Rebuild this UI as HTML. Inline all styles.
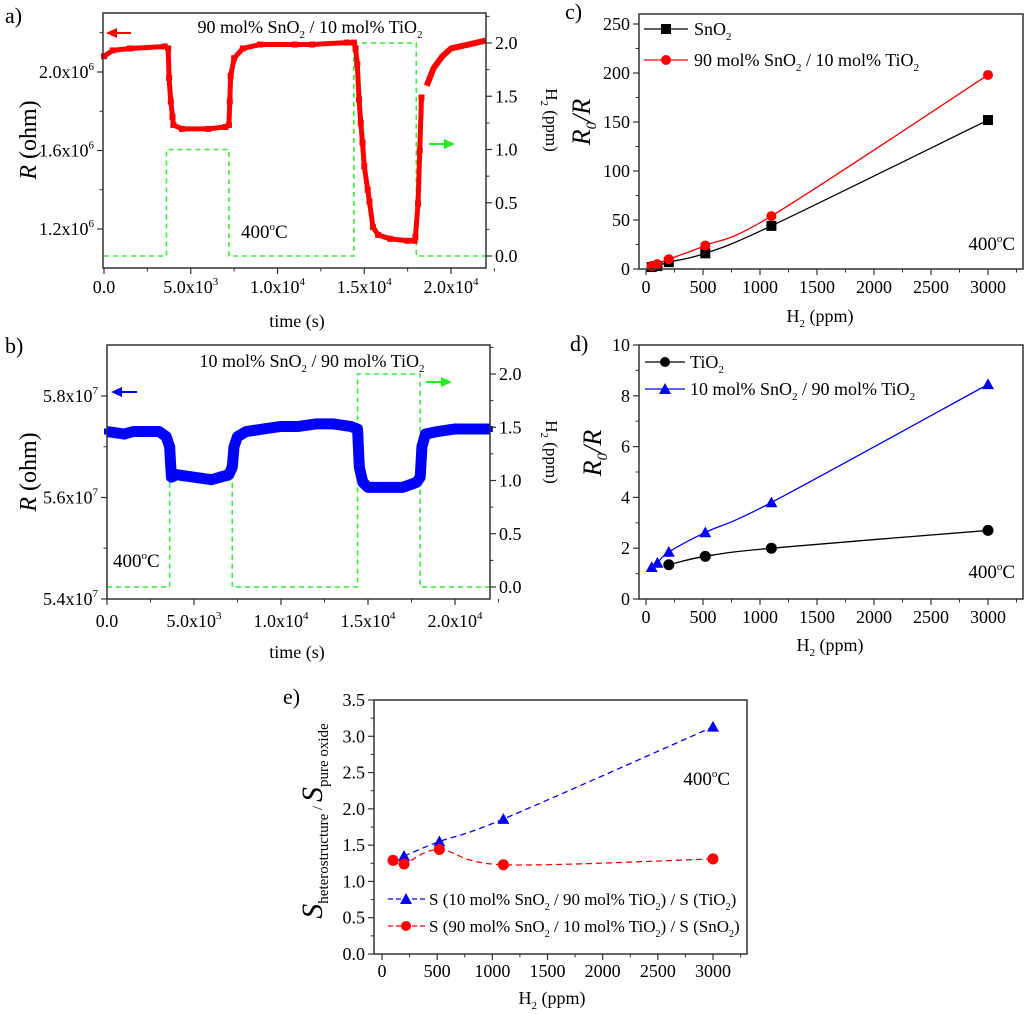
<!DOCTYPE html>
<html><head><meta charset="utf-8"><style>
html,body{margin:0;padding:0;background:#fff;}
svg{display:block;font-family:"Liberation Serif",serif;}
</style></head><body>
<svg id="chart" width="1024" height="1014" viewBox="0 0 1024 1014" xmlns="http://www.w3.org/2000/svg">
<rect width="1024" height="1014" fill="#fff"/>
<!-- panel letters -->
<text x="5" y="23" font-size="22">a)</text>
<text x="5" y="353" font-size="22">b)</text>
<text x="565" y="19" font-size="22">c)</text>
<text x="570" y="351" font-size="22">d)</text>
<text x="283" y="704" font-size="22">e)</text>
<!-- titles -->
<text x="310" y="33" font-size="18" text-anchor="middle">90 mol% SnO<tspan font-size="11" dy="5">2</tspan><tspan dy="-5"> / 10 mol% TiO</tspan><tspan font-size="11" dy="5">2</tspan></text>
<text x="312" y="367" font-size="18" text-anchor="middle">10 mol% SnO<tspan font-size="11" dy="5">2</tspan><tspan dy="-5"> / 90 mol% TiO</tspan><tspan font-size="11" dy="5">2</tspan></text>
<text x="241" y="238" font-size="19">400<tspan font-size="11" dy="-8">o</tspan><tspan dy="8">C</tspan></text>
<text x="113" y="567" font-size="19">400<tspan font-size="11" dy="-8">o</tspan><tspan dy="8">C</tspan></text>
<text x="1015" y="250" font-size="19" text-anchor="end">400<tspan font-size="11" dy="-8">o</tspan><tspan dy="8">C</tspan></text>
<text x="1015" y="578" font-size="19" text-anchor="end">400<tspan font-size="11" dy="-8">o</tspan><tspan dy="8">C</tspan></text>
<text x="730" y="785" font-size="19" text-anchor="end">400<tspan font-size="11" dy="-8">o</tspan><tspan dy="8">C</tspan></text>
<!-- axis titles -->
<text x="297" y="327" font-size="18" text-anchor="middle">time (s)</text>
<text x="297" y="658" font-size="18" text-anchor="middle">time (s)</text>
<text x="820" y="322" font-size="18" text-anchor="middle">H<tspan font-size="11" dy="5">2</tspan><tspan dy="-5"> (ppm)</tspan></text>
<text x="830" y="651" font-size="18" text-anchor="middle">H<tspan font-size="11" dy="5">2</tspan><tspan dy="-5"> (ppm)</tspan></text>
<text x="552" y="1004" font-size="18" text-anchor="middle">H<tspan font-size="11" dy="5">2</tspan><tspan dy="-5"> (ppm)</tspan></text>
<text transform="translate(36,140) rotate(-90)" font-size="24" text-anchor="middle"><tspan font-style="italic">R</tspan> (ohm)</text>
<text transform="translate(36,472) rotate(-90)" font-size="24" text-anchor="middle"><tspan font-style="italic">R</tspan> (ohm)</text>
<text transform="translate(546,120) rotate(90)" font-size="17" text-anchor="middle">H<tspan font-size="11" dy="5">2</tspan><tspan dy="-5"> (ppm)</tspan></text>
<text transform="translate(546,452) rotate(90)" font-size="17" text-anchor="middle">H<tspan font-size="11" dy="5">2</tspan><tspan dy="-5"> (ppm)</tspan></text>
<text transform="translate(590,122) rotate(-90)" font-size="26" text-anchor="middle" font-style="italic">R<tspan font-size="15" dy="6">0</tspan><tspan dy="-6">/R</tspan></text>
<text transform="translate(601,453) rotate(-90)" font-size="26" text-anchor="middle" font-style="italic">R<tspan font-size="15" dy="6">0</tspan><tspan dy="-6">/R</tspan></text>
<text transform="translate(322,821) rotate(-90)" font-size="30" text-anchor="middle" font-style="italic">S<tspan font-size="15" font-style="normal" dy="6">heterostructure</tspan><tspan font-size="15" font-style="normal" dy="-6"> / </tspan><tspan>S</tspan><tspan font-size="15" font-style="normal" dy="6">pure oxide</tspan></text>
<!-- arrows -->
<g><line x1="131" y1="33" x2="115" y2="33" stroke="#f00" stroke-width="2"/><polygon points="106,33 117,28 117,38" fill="#f00"/></g>
<g><line x1="429" y1="144" x2="445" y2="144" stroke="#2e2" stroke-width="2"/><polygon points="455,144 444,139 444,149" fill="#2e2"/></g>
<g><line x1="137" y1="392" x2="121" y2="392" stroke="#00f" stroke-width="2"/><polygon points="111,392 122,387 122,397" fill="#00f"/></g>
<g><line x1="426" y1="382" x2="442" y2="382" stroke="#2e2" stroke-width="2"/><polygon points="452,382 441,377 441,387" fill="#2e2"/></g>
<!-- legends -->
<g>
<g><line x1="644" y1="29" x2="688" y2="29" stroke="#000" stroke-width="1.2"/><rect x="661" y="24" width="10" height="10" fill="#000"/><text x="694" y="35" font-size="18">SnO<tspan font-size="11" dy="5">2</tspan></text></g>
<g><line x1="644" y1="60" x2="688" y2="60" stroke="#f00" stroke-width="1.2"/><circle cx="666" cy="60" r="5" fill="#f00"/><text x="694" y="66" font-size="18">90 mol% SnO<tspan font-size="11" dy="5">2</tspan><tspan dy="-5"> / 10 mol% TiO</tspan><tspan font-size="11" dy="5">2</tspan></text></g>
</g>
<g>
<g><line x1="645" y1="362" x2="685" y2="362" stroke="#000" stroke-width="1.2"/><circle cx="665" cy="362" r="5" fill="#000"/><text x="690" y="368" font-size="18">TiO<tspan font-size="11" dy="5">2</tspan></text></g>
<g><line x1="645" y1="389" x2="685" y2="389" stroke="#00f" stroke-width="1.2"/><polygon points="665,383 671,394 659,394" fill="#00f"/><text x="690" y="395" font-size="18">10 mol% SnO<tspan font-size="11" dy="5">2</tspan><tspan dy="-5"> / 90 mol% TiO</tspan><tspan font-size="11" dy="5">2</tspan></text></g>
</g>
<g>
<g><line x1="388" y1="899" x2="425" y2="899" stroke="#00f" stroke-width="1.2" stroke-dasharray="5,3"/><polygon points="406,893 412,904 400,904" fill="#00f"/><text x="429" y="905" font-size="17">S (10 mol% SnO<tspan font-size="10" dy="5">2</tspan><tspan dy="-5"> / 90 mol% TiO</tspan><tspan font-size="10" dy="5">2</tspan><tspan dy="-5">) / S (TiO</tspan><tspan font-size="10" dy="5">2</tspan><tspan dy="-5">)</tspan></text></g>
<g><line x1="388" y1="926" x2="425" y2="926" stroke="#f00" stroke-width="1.2" stroke-dasharray="5,3"/><circle cx="406" cy="926" r="5" fill="#f00"/><text x="429" y="932" font-size="17">S (90 mol% SnO<tspan font-size="10" dy="5">2</tspan><tspan dy="-5"> / 10 mol% TiO</tspan><tspan font-size="10" dy="5">2</tspan><tspan dy="-5">) / S (SnO</tspan><tspan font-size="10" dy="5">2</tspan><tspan dy="-5">)</tspan></text></g>
</g>
</svg>
<script>
// ---- data ----
const timeA = [0,500,1500,3500,3700,3750,3850,3950,4000,4500,6000,7000,7200,7250,7300,7500,8000,9000,11000,12000,14000,14400,14500,14600,14700,14800,14900,15000,15200,15300,15500,15800,16500,17500,17900,17950,18100,18200,18300];
const resA = [2.08,2.11,2.12,2.13,2.12,1.97,1.85,1.77,1.73,1.71,1.71,1.72,1.73,1.85,1.98,2.07,2.12,2.14,2.14,2.14,2.15,2.15,2.12,2.04,1.86,1.74,1.64,1.52,1.40,1.34,1.21,1.17,1.15,1.14,1.14,1.16,1.33,1.60,1.87];
const timeA2 = [18600,19000,19500,20000,21000,22000];
const resA2 = [1.93,2.02,2.08,2.12,2.14,2.16];
const timeB = [0,1000,1500,2500,3000,3400,3600,3700,4000,5000,6000,6500,7000,7200,7300,7500,8000,9000,10000,11000,12000,13000,14000,14400,14500,14700,15000,16000,17000,17800,18000,18100,18300,19000,20000,21000,22000];
const resB = [5.73,5.725,5.73,5.73,5.73,5.72,5.70,5.64,5.645,5.64,5.635,5.64,5.645,5.66,5.70,5.72,5.73,5.735,5.74,5.74,5.745,5.745,5.74,5.735,5.66,5.63,5.62,5.62,5.62,5.63,5.64,5.70,5.725,5.73,5.735,5.735,5.735];
const h2Time = [0,3600,3600,7200,7200,14400,14400,18000,18000,22000];
const h2A = [0,0,1,1,0,0,2,2,0,0];
const h2B = [0,0,1,1,0,0,2,2,0,0];
const concC = [50,100,200,520,1100,3000];
const sno2 = [2,3,7,16,44,152];
const het90 = [3,5,10,24,54,198];
const concTi = [200,520,1100,3000];
const tio2 = [1.35,1.68,2.0,2.7];
const concD = [50,100,200,520,1100,3000];
const het10 = [1.25,1.42,1.85,2.62,3.8,8.45];
const concE1 = [200,520,1100,3000];
const ratioTi = [1.35,1.55,1.86,3.13];
const concE2 = [100,200,520,1100,3000];
const ratioSn = [1.29,1.24,1.44,1.23,1.31];

const NS='http://www.w3.org/2000/svg';
const svg=document.getElementById('chart');
function mk(tag,attrs,name){
  const e=document.createElementNS(NS,tag);
  for(const k in attrs) e.setAttribute(k,attrs[k]);
  
  
  svg.appendChild(e); return e;
}
function sc(d0,d1,r0,r1){return v=>r0+(v-d0)*(r1-r0)/(d1-d0);}
function fmt(v,dec){return v.toFixed(dec);}
function sci(v){ if(v===0) return '0.0'; const e=Math.floor(Math.log10(v)+1e-9); const m=v/Math.pow(10,e);
  return m.toFixed(1)+'x10<tspan font-size="11" dy="-8">'+e+'</tspan>';}
function box(x,y,w,h,name){ mk('rect',{x:x,y:y,width:w,height:h,fill:'none',stroke:'#333','stroke-width':1.5},name); }
function xTicks(s,vals,minor,y0,ly,lab,name){
  vals.forEach(v=>{const X=s(v);
    mk('line',{x1:X,y1:y0,x2:X,y2:y0+6,stroke:'#333','stroke-width':1.2},name+'-tick');
    const tx=mk('text',{x:X,y:ly,'font-size':18,'text-anchor':'middle'},name+'-tick-label'); tx.innerHTML=lab(v);});
  minor.forEach(v=>{const X=s(v); mk('line',{x1:X,y1:y0,x2:X,y2:y0+3.5,stroke:'#333','stroke-width':1},name+'-minor-tick');});
}
function yTicks(s,vals,minor,x0,dir,lab,name){
  vals.forEach(v=>{const Y=s(v);
    mk('line',{x1:x0,y1:Y,x2:x0+6*dir,y2:Y,stroke:'#333','stroke-width':1.2},name+'-tick');
    const tx=mk('text',{x:x0+9*dir,y:Y+6,'font-size':18,'text-anchor':dir<0?'end':'start'},name+'-tick-label'); tx.innerHTML=lab(v);});
  minor.forEach(v=>{const Y=s(v); mk('line',{x1:x0,y1:Y,x2:x0+3.5*dir,y2:Y,stroke:'#333','stroke-width':1},name+'-minor-tick');});
}
function pts(xs,ys,sx,sy){return xs.map((x,i)=>sx(x)+','+sy(ys[i])).join(' ');}
function smooth(xs,ys,sx,sy){
  const P=xs.map((x,i)=>[sx(x),sy(ys[i])]); let d='M'+P[0][0]+','+P[0][1];
  for(let i=0;i<P.length-1;i++){const p0=P[Math.max(i-1,0)],p1=P[i],p2=P[i+1],p3=P[Math.min(i+2,P.length-1)];
    const c1=[p1[0]+(p2[0]-p0[0])/6,p1[1]+(p2[1]-p0[1])/6], c2=[p2[0]-(p3[0]-p1[0])/6,p2[1]-(p3[1]-p1[1])/6];
    d+=' C'+c1+' '+c2+' '+p2; }
  return d;
}
function squares(xs,ys,sx,sy,sz,col,name){xs.forEach((x,i)=>mk('rect',{x:sx(x)-sz/2,y:sy(ys[i])-sz/2,width:sz,height:sz,fill:col},name));}
function circles(xs,ys,sx,sy,r,col,name){xs.forEach((x,i)=>mk('circle',{cx:sx(x),cy:sy(ys[i]),r:r,fill:col},name));}
function tris(xs,ys,sx,sy,r,col,name){xs.forEach((x,i)=>{const X=sx(x),Y=sy(ys[i]);
  mk('polygon',{points:(X)+','+(Y-r)+' '+(X+r)+','+(Y+r*0.8)+' '+(X-r)+','+(Y+r*0.8),fill:col},name);});}
const range=(a,b,s)=>{const r=[];for(let v=a;v<=b+1e-9;v+=s)r.push(+v.toFixed(4));return r;};

// ---- panel a ----
const xa=sc(0,20000,104,451), ya=sc(1.2,2.0,229,72), ha=sc(0,2,256,43);
mk('polyline',{points:pts(h2Time,h2A,xa,ha),fill:'none',stroke:'#33ee33','stroke-width':1.6,'stroke-dasharray':'5,4'},'a-h2-dashed-line');
mk('polyline',{points:pts(timeA,resA,xa,ya),fill:'none',stroke:'#f00','stroke-width':5,'stroke-linejoin':'round'},'a-resistance-line');
mk('polyline',{points:pts(timeA2,resA2,xa,ya),fill:'none',stroke:'#f00','stroke-width':6,'stroke-linejoin':'round'},'a-resistance-line-recovery');
squares(timeA,resA,xa,ya,6,'#f00','a-resistance-point');
box(103,13,383,255,'a-plot-frame');
xTicks(xa,range(0,20000,5000),range(2500,22500,5000),268,293,sci,'a-x');
yTicks(ya,[1.2,1.6,2.0],[1.4,1.8,2.2],103,-1,v=>sci(v*1e6),'a-y');
yTicks(ha,range(0,2,0.5),range(0.25,2.25,0.5),486,1,v=>fmt(v,1),'a-y-right');

// ---- panel b ----
const xb=sc(0,20000,107,455), yb=sc(5.4,5.8,599,396), hb=sc(0,2,587,374);
mk('polyline',{points:pts(h2Time,h2B,xb,hb),fill:'none',stroke:'#33ee33','stroke-width':1.6,'stroke-dasharray':'5,4'},'b-h2-dashed-line');
mk('polyline',{points:pts(timeB,resB,xb,yb),fill:'none',stroke:'#00f','stroke-width':11,'stroke-linejoin':'round'},'b-resistance-band');
squares(timeB,resB,xb,yb,6,'#00f','b-resistance-point');
box(107,345,383,254,'b-plot-frame');
xTicks(xb,range(0,20000,5000),range(2500,22500,5000),599,627,sci,'b-x');
yTicks(yb,[5.4,5.6,5.8],[5.5,5.7],107,-1,v=>sci(v*1e7),'b-y');
yTicks(hb,range(0,2,0.5),range(0.25,2.25,0.5),490,1,v=>fmt(v,1),'b-y-right');

// ---- panel c ----
const xc=sc(0,3000,646,988), yc=sc(0,250,269,24);
mk('path',{d:smooth(concC,sno2,xc,yc),fill:'none',stroke:'#000','stroke-width':1.3},'c-sno2-line');
mk('path',{d:smooth(concC,het90,xc,yc),fill:'none',stroke:'#f00','stroke-width':1.3},'c-90sno2-line');
squares(concC,sno2,xc,yc,10,'#000','c-sno2-point');
circles(concC,het90,xc,yc,5,'#f00','c-90sno2-point');
box(639,14,384,255,'c-plot-frame');
xTicks(xc,range(0,3000,500),range(250,3250,500),269,293,v=>String(v),'c-x');
yTicks(yc,range(0,250,50),range(25,225,50),639,-1,v=>String(v),'c-y');

// ---- panel d ----
const yd=sc(0,10,599,345);
mk('path',{d:smooth(concTi,tio2,xc,yd),fill:'none',stroke:'#000','stroke-width':1.3},'d-tio2-line');
mk('path',{d:smooth(concD,het10,xc,yd),fill:'none',stroke:'#00f','stroke-width':1.3},'d-10sno2-line');
circles(concTi,tio2,xc,yd,5.5,'#000','d-tio2-point');
tris(concD,het10,xc,yd,6,'#00f','d-10sno2-point');
box(639,345,384,254,'d-plot-frame');
xTicks(xc,range(0,3000,500),range(250,3250,500),599,623,v=>String(v),'d-x');
yTicks(yd,range(0,10,2),range(1,9,2),639,-1,v=>String(v),'d-y');

// ---- panel e ----
const xe=sc(0,3000,382,713), ye=sc(0,3.5,954,700);
mk('path',{d:smooth(concE1,ratioTi,xe,ye),fill:'none',stroke:'#00f','stroke-width':1.3,'stroke-dasharray':'6,4'},'e-ratio-tio2-line');
mk('path',{d:smooth(concE2,ratioSn,xe,ye),fill:'none',stroke:'#f00','stroke-width':1.3,'stroke-dasharray':'6,4'},'e-ratio-sno2-line');
tris(concE1,ratioTi,xe,ye,6,'#00f','e-ratio-tio2-point');
circles(concE2,ratioSn,xe,ye,5.5,'#f00','e-ratio-sno2-point');
box(374,700,373,254,'e-plot-frame');
xTicks(xe,range(0,3000,500),range(250,3250,500),954,977,v=>String(v),'e-x');
yTicks(ye,range(0,3.5,0.5),range(0.25,3.25,0.5),374,-1,v=>fmt(v,1),'e-y');
</script>
</body></html>
